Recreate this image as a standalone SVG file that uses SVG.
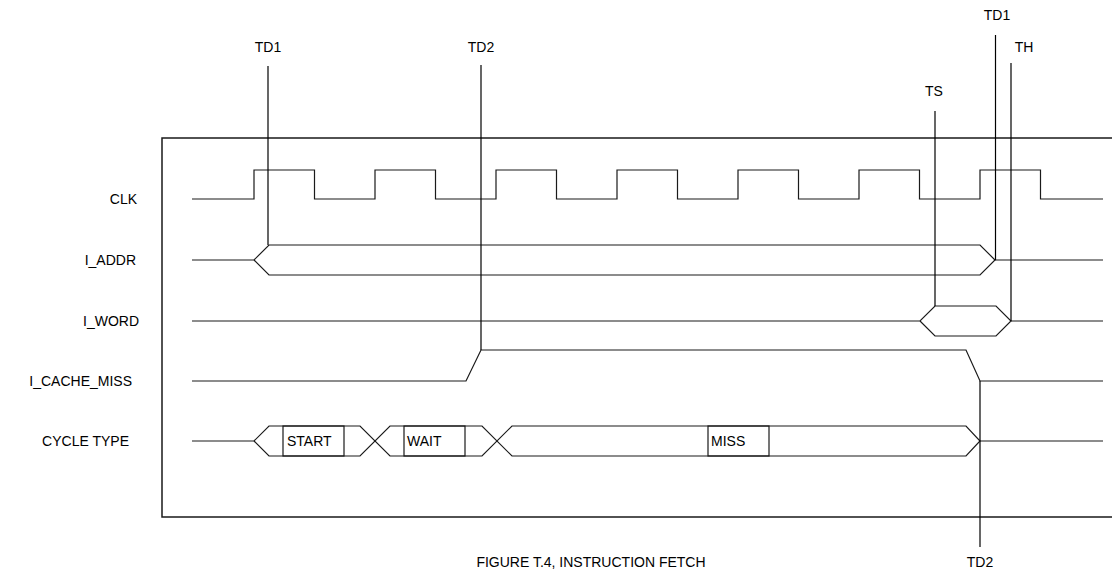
<svg xmlns="http://www.w3.org/2000/svg" width="1112" height="571" viewBox="0 0 1112 571">
<style>
.w{fill:none;stroke:#1a1a1a;stroke-width:1.2;stroke-linejoin:miter}
.m{fill:none;stroke:#000;stroke-width:1.2}
.t{font-family:"Liberation Sans",Arial,sans-serif;font-size:14px;fill:#000}
.c{text-anchor:middle}
.e{text-anchor:end}
</style>
<rect width="1112" height="571" fill="#fff"/>
<g id="frame">
<path class="w" d="M1112,138 H162 V517 H1112" style="stroke-width:1.5"/>
</g>
<g id="labels">
<text class="t e" x="137" y="204">CLK</text>
<text class="t e" x="136" y="265">I_ADDR</text>
<text class="t e" x="139" y="326">I_WORD</text>
<text class="t e" x="132" y="386">I_CACHE_MISS</text>
<text class="t e" x="129" y="446">CYCLE TYPE</text>
</g>
<g id="clk">
<path class="w" d="M192,199 H254 V170 H314.5 V199 H375 V170 H435.5 V199 H496 V170 H556.5 V199 H617 V170 H677.5 V199 H738 V170 H798.5 V199 H859 V170 H919.5 V199 H980 V170 H1040.5 V199 H1103"/>
</g>
<g id="i_addr">
<path class="w" d="M192,260 H254 L269,245 H980 L995,260 L980,275 H269 L254,260"/>
<path class="w" d="M995,260 H1103"/>
</g>
<g id="i_word">
<path class="w" d="M192,321 H920 L935,306 H996 L1011,321 L996,336 H935 L920,321"/>
<path class="w" d="M1011,321 H1103"/>
</g>
<g id="i_cache_miss">
<path class="w" d="M192,381 H466 L481,350 H966 L980,381 H1103"/>
</g>
<g id="cycle_type">
<path class="w" d="M192,441 H254 L269,426 H360 L390,456 H404"/>
<path class="w" d="M254,441 L269,456 H360 L390,426 H404"/>
<path class="w" d="M404,426 H482 L512,456 H966 L980,441 L966,426 H512 L482,456 H404"/>
<path class="w" d="M980,441 H1103"/>
<rect class="w" x="283" y="426" width="61" height="30"/>
<rect class="w" x="404" y="426" width="61" height="30"/>
<rect class="w" x="708" y="426" width="61" height="30"/>
<text class="t" x="287" y="446">START</text>
<text class="t" x="407" y="446">WAIT</text>
<text class="t" x="711" y="446">MISS</text>
</g>
<g id="markers">
<path class="m" d="M268,66 V245"/>
<path class="m" d="M481,65 V350"/>
<path class="m" d="M995.5,35 V260"/>
<path class="m" d="M1011,63 V321"/>
<path class="m" d="M935,111 V306"/>
<path class="m" d="M980,381 V547"/>
<text class="t c" x="268" y="52">TD1</text>
<text class="t c" x="481" y="52">TD2</text>
<text class="t c" x="997" y="20">TD1</text>
<text class="t c" x="1024" y="52">TH</text>
<text class="t c" x="934" y="96">TS</text>
<text class="t c" x="980" y="567">TD2</text>
</g>
<g id="caption">
<text class="t c" x="591" y="567">FIGURE T.4, INSTRUCTION FETCH</text>
</g>
</svg>
